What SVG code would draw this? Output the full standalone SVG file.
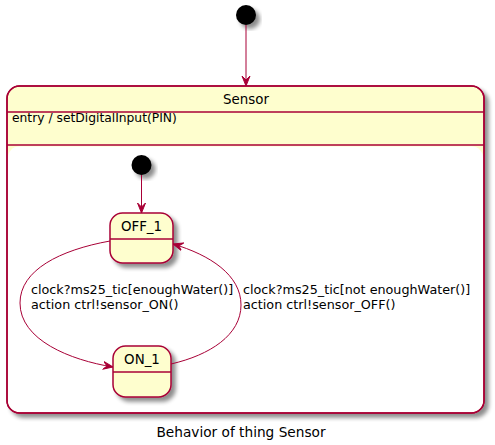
<svg xmlns="http://www.w3.org/2000/svg" width="495" height="445" viewBox="0 0 495 445">
<style>
text{font-family:"DejaVu Sans","Liberation Sans",sans-serif;fill:#000}
.st{fill:#FEFECE;stroke:#A80036;stroke-width:1.5}
.ln{stroke:#A80036;stroke-width:1.5;fill:none}
.cn{stroke:#A80036;stroke-width:1;fill:none}
.lbl{font-size:12.75px}
</style>
<defs>
<filter id="sh" x="-20%" y="-20%" width="150%" height="150%">
<feGaussianBlur in="SourceAlpha" stdDeviation="2"/>
<feOffset dx="4" dy="4" result="b"/>
<feComponentTransfer><feFuncA type="linear" slope="0.45"/></feComponentTransfer>
<feMerge><feMergeNode/><feMergeNode in="SourceGraphic"/></feMerge>
</filter>
<marker id="ah" viewBox="0 0 10 10" refX="10" refY="5" markerWidth="10" markerHeight="10" markerUnits="userSpaceOnUse" orient="auto">
<path d="M0,1 L10,5 L0,9 L4,5 Z" fill="#A80036" stroke="#A80036" stroke-width="1"/>
</marker>
</defs>
<g id="init_top">
<circle cx="246" cy="15" r="10" fill="#000" filter="url(#sh)"/>
</g>
<g id="Sensor">
<rect class="st" x="7" y="86" width="477" height="327" rx="12.5" filter="url(#sh)"/>
<rect x="8" y="146.5" width="475" height="265.5" rx="11" fill="#FFFFFF"/>
<rect x="7" y="86" width="477" height="327" rx="12.5" fill="none" stroke="#A80036" stroke-width="1.5"/>
<line class="ln" x1="7" y1="112" x2="484" y2="112"/>
<line class="ln" x1="7" y1="145" x2="484" y2="145"/>
<text x="246" y="104" font-size="13.4" text-anchor="middle">Sensor</text>
<text x="12" y="122" font-size="12.3">entry / setDigitalInput(PIN)</text>
</g>
<g id="init_inner">
<circle cx="141.5" cy="165" r="10" fill="#000" filter="url(#sh)"/>
</g>
<g id="OFF_1">
<rect class="st" x="110" y="213" width="63" height="50" rx="12.5" filter="url(#sh)"/>
<line class="ln" x1="110" y1="239" x2="173" y2="239"/>
<text x="141.5" y="231" font-size="13.4" text-anchor="middle">OFF_1</text>
</g>
<g id="ON_1">
<rect class="st" x="113" y="346" width="58" height="51" rx="12.5" filter="url(#sh)"/>
<line class="ln" x1="113" y1="372" x2="171" y2="372"/>
<text x="142" y="364" font-size="13.4" text-anchor="middle">ON_1</text>
</g>
<g id="connectors">
<line class="cn" x1="246" y1="25" x2="246" y2="86" marker-end="url(#ah)"/>
<line class="cn" x1="141.5" y1="175" x2="141.5" y2="213" marker-end="url(#ah)"/>
<path class="cn" d="M110,241 C60,250 20,270 20,303 C20,340 70,360 113,367" marker-end="url(#ah)"/>
<path class="cn" d="M171,364 C210,355 241,335 241,305 C241,275 210,255 173,244" marker-end="url(#ah)"/>
<text class="lbl" x="31" y="294">clock?ms25_tic[enoughWater()]</text>
<text class="lbl" x="31" y="309">action ctrl!sensor_ON()</text>
<text class="lbl" x="243" y="294">clock?ms25_tic[not enoughWater()]</text>
<text class="lbl" x="243" y="309">action ctrl!sensor_OFF()</text>
</g>
<text x="241" y="437" font-size="13.7" text-anchor="middle">Behavior of thing Sensor</text>
</svg>
